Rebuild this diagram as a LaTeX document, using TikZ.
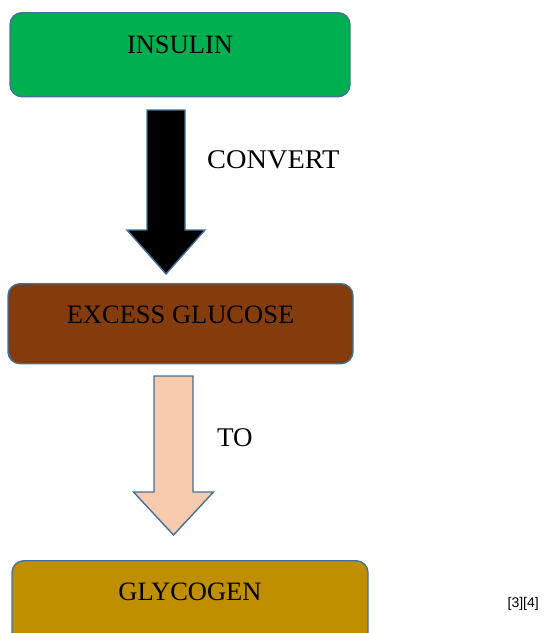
\documentclass[tikz,border=0pt]{standalone}
\usepackage{fontspec}
\setmainfont{Liberation Serif}
\newfontfamily\refsfont{Liberation Sans}
\usetikzlibrary{positioning,calc}
\definecolor{boxline}{RGB}{65,113,156}
\definecolor{insgreen}{RGB}{0,176,80}
\definecolor{glubrown}{RGB}{132,60,12}
\definecolor{glygold}{RGB}{191,143,0}
\definecolor{peach}{RGB}{248,203,173}

\begin{document}
\begin{tikzpicture}
  [x=1pt,y=-1pt,
   stepN/.style={rectangle,rounded corners=12pt,draw=boxline,line width=1.4pt,
     inner sep=0pt,font=\fontsize{26.5}{26.5}\selectfont,anchor=north},
   blockA/.style={draw=boxline,line width=1.4pt,line join=miter},
   labelN/.style={font=\fontsize{27}{27}\selectfont,anchor=west,inner sep=0pt}]

  \clip (0,0) rectangle (544,633);

  % boxes
  \node[stepN,fill=insgreen,minimum width=340pt,
        text height=40.6pt,text depth=43.4pt] (ins) at (180,12) {INSULIN};
  \node[stepN,fill=glubrown,minimum width=345pt,
        text height=39.6pt,text depth=40.4pt] (glu) at (180.5,283) {EXCESS GLUCOSE};
  \node[stepN,fill=glygold,minimum width=356pt,
        text height=39.6pt,text depth=44pt] (gly) at (190,560) {GLYCOGEN};

  % block arrows
  \coordinate (a1) at (166,110);
  \coordinate (a2) at (173.5,376);

  \draw[blockA,fill=black] ($(a1)+(-19,0)$) -- ($(a1)+(19,0)$) -- ($(a1)+(19,120)$)
    -- ($(a1)+(39,120)$) -- ($(a1)+(0,164)$) -- ($(a1)+(-39,120)$)
    -- ($(a1)+(-19,120)$) -- cycle;
  \draw[blockA,fill=peach] ($(a2)+(-19.5,0)$) -- ($(a2)+(19.5,0)$) -- ($(a2)+(19.5,116)$)
    -- ($(a2)+(40,116)$) -- ($(a2)+(0,159)$) -- ($(a2)+(-40,116)$)
    -- ($(a2)+(-19.5,116)$) -- cycle;

  % labels
  \node[labelN,xscale=1.05] (conv) at (207,160) {CONVERT};
  \node[labelN] (to) at (217,438) {TO};
  \node[font=\refsfont\fontsize{14}{14}\selectfont,anchor=east,inner sep=0pt]
    (refs) at (539,604) {[3][4]};
\end{tikzpicture}
\end{document}
